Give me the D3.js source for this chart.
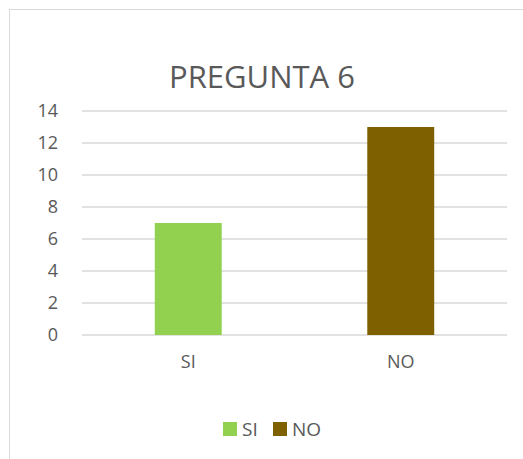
<!DOCTYPE html>
<html>
<head>
<meta charset="utf-8">
<script src="https://cdn.jsdelivr.net/npm/d3@7"></script>
<style>
  body { margin: 0; background: #fff; }
  text { font-family: 'Open Sans', sans-serif; fill: #595959; }
</style>
</head>
<body>
<div id="chart"></div>
<script>
// chart data
const categories = ['SI', 'NO'];
const values = [7, 13];
const colors = ['#92d050', '#7f6000'];
const yTicks = [0, 2, 4, 6, 8, 10, 12, 14];
const title = 'PREGUNTA 6';

const width = 523, height = 459;
const margin = { top: 111, right: 16, bottom: 124, left: 82 };
const innerW = width - margin.left - margin.right,
  innerH = height - margin.top - margin.bottom;

const svg = d3.select('#chart').append('svg')
  .attr('width', width)
  .attr('height', height);

// chart area border (right/bottom edges run off the picture)
svg.append('rect')
  .attr('x', 9.5).attr('y', 9.5)
  .attr('width', 540).attr('height', 480)
  .attr('fill', '#fff')
  .attr('stroke', '#d9d9d9');

svg.append('text')
  .attr('x', 262).attr('y', 88)
  .attr('text-anchor', 'middle')
  .style('font-size', '31px')
  .text(title);

const g = svg.append('g')
  .attr('transform', 'translate(' + margin.left + ',' + margin.top + ')');

const x = d3.scaleBand().domain(categories).range([0, innerW]).paddingInner(0.685).paddingOuter(0.3425);
const y = d3.scaleLinear().domain([0, 14]).range([innerH, 0]);

// gridlines
g.append('g')
  .selectAll('line')
  .data(yTicks)
  .join('line')
  .attr('x1', 0).attr('x2', innerW)
  .attr('y1', d => y(d)).attr('y2', d => y(d))
  .attr('stroke', '#d9d9d9')
  .attr('stroke-width', 1.3);

// y axis labels
const yAxis = d3.axisLeft(y).tickValues(yTicks).tickSize(0).tickPadding(24);
g.append('g').call(yAxis)
  .call(s => s.select('.domain').remove())
  .selectAll('text')
  .style('font-size', '18px')
  .attr('font-family', null);

// bars
g.selectAll('rect.bar')
  .data(values)
  .join('rect')
  .attr('class', 'bar')
  .attr('x', (d, i) => x(categories[i]))
  .attr('y', d => y(d))
  .attr('width', x.bandwidth())
  .attr('height', d => innerH - y(d))
  .attr('fill', (d, i) => colors[i]);

// x axis labels
const xAxis = d3.axisBottom(x).tickSize(0).tickPadding(20);
g.append('g')
  .attr('transform', 'translate(0,' + innerH + ')')
  .call(xAxis)
  .call(s => s.select('.domain').remove())
  .selectAll('text')
  .style('font-size', '18px')
  .attr('font-family', null);

// legend
const legendX = [223, 273];
const legend = svg.append('g');
categories.forEach((c, i) => {
  legend.append('rect')
    .attr('x', legendX[i]).attr('y', 422)
    .attr('width', 14).attr('height', 14)
    .attr('fill', colors[i]);
  legend.append('text')
    .attr('x', legendX[i] + 19).attr('y', 436)
    .style('font-size', '19px')
    .text(c);
});
</script>
</body>
</html>
